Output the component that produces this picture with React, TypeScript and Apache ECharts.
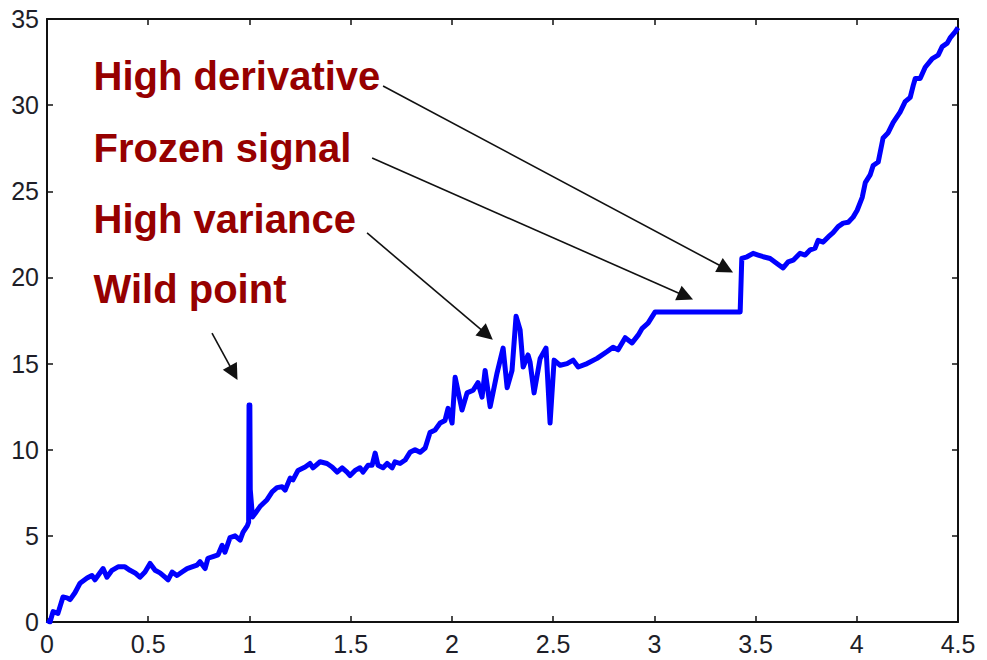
import React, { useEffect, useRef } from "react";
import * as echarts from "echarts";

// Sensor trace: time (s) and measured value
const timeValues: number[] = [
  0.0, 0.015, 0.03, 0.054, 0.079, 0.099, 0.114, 0.138, 0.163, 0.198, 0.222, 0.237, 0.252, 0.277,
  0.296, 0.321, 0.351, 0.385, 0.41, 0.435, 0.459, 0.484, 0.509, 0.534, 0.558, 0.583, 0.598, 0.618,
  0.642, 0.667, 0.692, 0.716, 0.741, 0.756, 0.781, 0.795, 0.82, 0.845, 0.865, 0.879, 0.904, 0.929,
  0.954, 0.968, 0.99, 0.996, 0.998, 1.002, 1.004, 1.015,
  1.028, 1.052, 1.087, 1.112, 1.136, 1.161, 1.176, 1.201, 1.215, 1.24, 1.275, 1.299, 1.314, 1.349,
  1.383, 1.408, 1.433, 1.458, 1.482, 1.497, 1.522, 1.546, 1.561, 1.586, 1.606, 1.621, 1.635, 1.66,
  1.68, 1.705, 1.719, 1.744, 1.769, 1.793, 1.818, 1.843, 1.868, 1.892, 1.917, 1.942, 1.966, 1.981,
  2.001, 2.016, 2.05, 2.075, 2.105, 2.129, 2.149, 2.164, 2.189, 2.223, 2.253, 2.273, 2.297, 2.317,
  2.337, 2.352, 2.376, 2.386, 2.406, 2.436, 2.465, 2.485, 2.505, 2.535, 2.569, 2.599, 2.624, 2.668,
  2.717, 2.767, 2.796, 2.821, 2.856, 2.89, 2.92, 2.94, 2.969, 3.004,
  3.424, 3.432, 3.458, 3.488, 3.513, 3.538, 3.572, 3.607, 3.636, 3.661, 3.686, 3.72, 3.745, 3.77,
  3.794, 3.809, 3.834, 3.859, 3.883, 3.908, 3.933, 3.958, 3.982, 4.002, 4.027, 4.042, 4.066, 4.081,
  4.106, 4.13, 4.155, 4.18, 4.214, 4.239, 4.264, 4.279, 4.289, 4.313, 4.338, 4.373, 4.402, 4.422,
  4.447, 4.461, 4.486, 4.5,
];

const signalValues: number[] = [
  0.1, 0.0, 0.6, 0.5, 1.45, 1.4, 1.3, 1.7, 2.25, 2.55, 2.7, 2.45, 2.7, 3.1,
  2.6, 3.0, 3.2, 3.2, 3.0, 2.85, 2.6, 2.9, 3.4, 3.0, 2.85, 2.6, 2.45, 2.9,
  2.7, 2.9, 3.1, 3.2, 3.3, 3.5, 3.1, 3.7, 3.8, 3.9, 4.45, 4.05, 4.9, 5.0,
  4.75, 5.2, 5.6, 5.8, 12.6, 12.6, 7.7, 6.1,
  6.3, 6.7, 7.1, 7.55, 7.8, 7.85, 7.65, 8.35, 8.25, 8.8, 9.0, 9.2, 8.95, 9.3,
  9.2, 9.0, 8.7, 8.95, 8.7, 8.5, 8.8, 8.95, 8.7, 9.1, 9.1, 9.8, 9.1, 8.95,
  9.2, 8.95, 9.3, 9.2, 9.4, 9.85, 10.0, 9.85, 10.1, 11.0, 11.15, 11.55, 11.7, 12.4,
  11.55, 14.2, 12.3, 13.3, 13.45, 13.9, 13.05, 14.6, 12.5, 14.45, 15.9, 13.6, 14.6, 17.75,
  16.95, 14.8, 15.5, 15.1, 13.3, 15.3, 15.9, 11.55, 15.2, 14.9, 15.0, 15.2, 14.8, 15.0,
  15.3, 15.7, 15.95, 15.8, 16.5, 16.2, 16.65, 17.05, 17.35, 18.0,
  18.0, 21.1, 21.2, 21.4, 21.3, 21.2, 21.1, 20.8, 20.55, 20.9, 21.0, 21.4, 21.3, 21.6,
  21.7, 22.15, 22.05, 22.35, 22.6, 22.95, 23.15, 23.2, 23.5, 23.9, 24.65, 25.5, 25.95, 26.5,
  26.7, 28.1, 28.4, 29.0, 29.6, 30.2, 30.45, 31.15, 31.55, 31.55, 32.2, 32.7, 32.9, 33.4,
  33.6, 33.9, 34.25, 34.5,
];

// Fault annotations: label, label anchor (data units), arrow tail and arrow head (data units)
const faultLabels: string[] = ["High derivative", "Frozen signal", "High variance", "Wild point"];
const labelAnchorX: number[] = [0.23, 0.23, 0.23, 0.23];
const labelAnchorY: number[] = [31.7, 27.5, 23.4, 19.35];
const arrowTail: [number, number][] = [
  [1.66, 31.11],
  [1.606, 26.93],
  [1.581, 22.58],
  [0.815, 16.77],
];
const arrowHead: [number, number][] = [
  [3.354, 20.5],
  [3.155, 18.91],
  [2.172, 16.69],
  [0.922, 14.46],
];

const FONT = 'Arial, "Liberation Sans", sans-serif';

export default function App() {
  const ref = useRef<HTMLDivElement>(null);

  useEffect(() => {
    if (!ref.current) return;
    const chart = echarts.init(ref.current, undefined, { renderer: "svg" });

    const seriesData = timeValues.map((t, i) => [t, signalValues[i]]);

    const axisCommon = {
      type: "value" as const,
      splitLine: { show: false },
      axisLine: { show: true, onZero: false, lineStyle: { color: "#111", width: 2 } },
      axisTick: { show: true, inside: true, length: 6, lineStyle: { color: "#111", width: 1.5 } },
    };

    const labelStyle = { color: "#1e1e28", fontSize: 25, fontFamily: FONT };

    chart.setOption({
      animation: false,
      backgroundColor: "#fff",
      grid: { left: 47, top: 19, right: 29, bottom: 38, containLabel: false },
      xAxis: [
        {
          ...axisCommon,
          position: "bottom",
          min: 0,
          max: 4.5,
          interval: 0.5,
          axisLabel: { ...labelStyle, margin: 9, showMaxLabel: true, showMinLabel: true },
        },
        {
          ...axisCommon,
          position: "top",
          min: 0,
          max: 4.5,
          interval: 0.5,
          axisLabel: { show: false },
        },
      ],
      yAxis: [
        {
          ...axisCommon,
          position: "left",
          min: 0,
          max: 35,
          interval: 5,
          axisLabel: { ...labelStyle, margin: 8 },
        },
        {
          ...axisCommon,
          position: "right",
          min: 0,
          max: 35,
          interval: 5,
          axisLabel: { show: false },
        },
      ],
      series: [
        {
          type: "line",
          data: seriesData,
          showSymbol: false,
          symbol: "none",
          lineStyle: { color: "#0000ff", width: 5, join: "round" },
          z: 3,
          markLine: {
            silent: true,
            symbol: ["none", "triangle"],
            symbolSize: 16,
            label: { show: false },
            lineStyle: { color: "#111", width: 1.6, type: "solid" },
            itemStyle: { color: "#111" },
            data: arrowTail.map((tail, i) => [
              { coord: tail },
              { coord: arrowHead[i] },
            ]),
          },
        },
      ],
    });

    // Annotation labels placed at their data anchors
    chart.setOption({
      graphic: faultLabels.map((name, i) => {
        const [px, py] = chart.convertToPixel({ gridIndex: 0 }, [labelAnchorX[i], labelAnchorY[i]]);
        return {
          type: "text",
          x: px,
          y: py,
          z: 10,
          silent: true,
          style: {
            text: name,
            fill: "#960000",
            font: `bold 40px ${FONT}`,
            align: "left",
            verticalAlign: "middle",
          },
        };
      }),
    });

    return () => chart.dispose();
  }, []);

  return (
    <div
      ref={ref}
      style={{ position: "fixed", left: 0, top: 0, width: 987, height: 660, background: "#fff" }}
    />
  );
}
